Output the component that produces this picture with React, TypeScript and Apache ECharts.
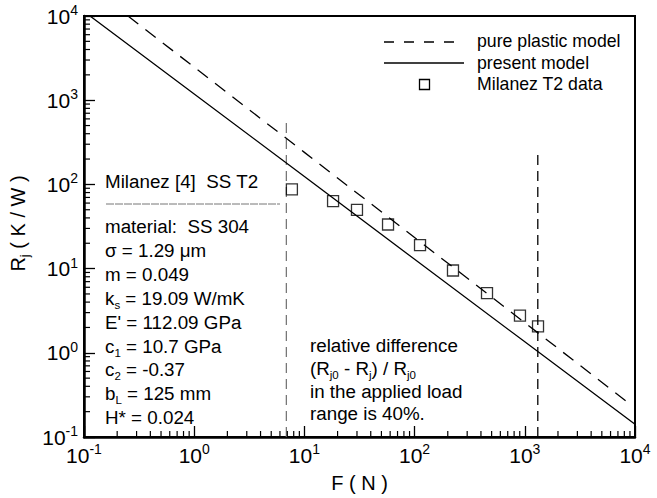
import React, { useEffect, useRef } from 'react';
import * as echarts from 'echarts';

const FONT = "'Liberation Sans', Arial, Helvetica, sans-serif";

// axis ranges
const X_MIN = 0.1;
const X_MAX = 10000;
const Y_MIN = 0.1;
const Y_MAX = 10000;

// Milanez T2 data
const DATA_F = [7.7, 18.2, 30, 57.4, 112, 223, 454, 904, 1318];
const DATA_R = [87.5, 63.4, 49.9, 33.4, 19, 9.5, 5.1, 2.77, 2.06];

// present model (solid)
const PRESENT_F = [0.1134, 1, 10, 100, 1000, 10000];
const PRESENT_R = [10000, 1183, 124, 12.9, 1.35, 0.1416];

// pure plastic model (dashed)
const PLASTIC_F = [0.2507, 1, 10, 100, 1000, 8450];
const PLASTIC_R = [10000, 2466, 240, 23.4, 2.28, 0.262];

// applied load range markers
const LIMIT_F = [6.86, 1312];
const LIMIT_TOP = [541, 262];

const SERIES_NAMES = ['pure plastic model', 'present model', 'Milanez T2 data'];

const INFO_LINES = [
  '{t|Milanez [4] \u00a0SS T2}',
  '{t|material: \u00a0SS 304}',
  '{t|σ = 1.29 μm}',
  '{t|m = 0.049}',
  '{t|k}{s|s}{t| = 19.09 W/mK}',
  "{t|E' = 112.09 GPa}",
  '{t|c}{s|1}{t| = 10.7 GPa}',
  '{t|c}{s|2}{t| = -0.37}',
  '{t|b}{s|L}{t| = 125 mm}',
  '{t|H* = 0.024}',
];
const INFO_BASELINES = [188, 233, 257, 281, 305, 329, 353, 376, 400, 424];

const NOTE_LINES = [
  '{t|relative difference}',
  '{t|(R}{s|j0}{t| - R}{s|j}{t|) / R}{s|j0}',
  '{t|in the applied load}',
  '{t|range is 40%.}',
];
const NOTE_BASELINES = [352, 375, 398, 420];

function minorValues(min: number, max: number): number[] {
  const out: number[] = [];
  const e0 = Math.round(Math.log10(min));
  const e1 = Math.round(Math.log10(max));
  for (let e = e0; e < e1; e++) {
    for (let k = 2; k <= 9; k++) out.push(k * Math.pow(10, e));
  }
  return out;
}

const textRich = {
  t: { fontSize: 18.8, lineHeight: 24, verticalAlign: 'middle', fontFamily: FONT, color: '#000' },
  s: { fontSize: 11.5, lineHeight: 8, verticalAlign: 'bottom', fontFamily: FONT, color: '#000' },
};

const labelRich = {
  b: { fontSize: 21, lineHeight: 26, verticalAlign: 'middle', fontFamily: FONT, color: '#000' },
  s: { fontSize: 14, lineHeight: 17, verticalAlign: 'top', fontFamily: FONT, color: '#000' },
};

const powerLabel = (v: number) => {
  const e = Math.round(Math.log10(v));
  return `{b|10}{s|${e}}`;
};

export default function App() {
  const ref = useRef<HTMLDivElement>(null);
  useEffect(() => {
    if (!ref.current) return;
    const chart = echarts.init(ref.current, undefined, { renderer: 'svg' });

    const graphics: any[] = [];
    INFO_LINES.forEach((line, i) => {
      graphics.push({
        type: 'text',
        x: 105,
        y: INFO_BASELINES[i] - 18.5,
        style: { text: line, rich: textRich, verticalAlign: 'top', align: 'left' },
      });
    });
    NOTE_LINES.forEach((line, i) => {
      graphics.push({
        type: 'text',
        x: 310,
        y: NOTE_BASELINES[i] - 18.5,
        style: { text: line, rich: textRich, verticalAlign: 'top', align: 'left' },
      });
    });
    // divider under the heading
    graphics.push({
      type: 'line',
      shape: { x1: 106, y1: 204, x2: 280, y2: 204 },
      style: { stroke: '#777', lineWidth: 1, lineDash: [8, 1] },
    });
    // legend
    graphics.push({
      type: 'line',
      shape: { x1: 384, y1: 42, x2: 464, y2: 42 },
      style: { stroke: '#000', lineWidth: 1.3, lineDash: [10, 10] },
    });
    graphics.push({
      type: 'line',
      shape: { x1: 384, y1: 63, x2: 464, y2: 63 },
      style: { stroke: '#000', lineWidth: 1.3 },
    });
    graphics.push({
      type: 'rect',
      shape: { x: 419.5, y: 79.5, width: 10, height: 10 },
      style: { stroke: '#000', fill: 'none', lineWidth: 1.3 },
    });
    [41, 62.5, 83.5].forEach((y, i) => {
      graphics.push({
        type: 'text',
        x: 477,
        y,
        style: {
          text: SERIES_NAMES[i],
          fontSize: 17.7,
          fontFamily: FONT,
          fill: '#000',
          verticalAlign: 'middle',
          align: 'left',
        },
      });
    });

    const option: any = {
      animation: false,
      backgroundColor: '#fff',
      grid: {
        left: 84,
        top: 16,
        right: 22,
        bottom: 52,
        show: true,
        borderColor: '#000',
        borderWidth: 2,
        backgroundColor: 'transparent',
      },
      xAxis: {
        type: 'log',
        logBase: 10,
        min: X_MIN,
        max: X_MAX,
        axisLine: { show: true, lineStyle: { color: '#000', width: 2.5 } },
        axisTick: { show: true, inside: true, length: 11, lineStyle: { color: '#000', width: 1.3 } },
        axisLabel: { margin: 5, formatter: powerLabel, rich: labelRich },
        splitLine: { show: false },
        name: 'F ( N )',
        nameLocation: 'middle',
        nameGap: 36,
        nameTextStyle: { fontSize: 20, color: '#000', fontFamily: FONT },
      },
      yAxis: {
        type: 'log',
        logBase: 10,
        min: Y_MIN,
        max: Y_MAX,
        axisLine: { show: true, lineStyle: { color: '#000', width: 2.5 } },
        axisTick: { show: true, inside: true, length: 11, lineStyle: { color: '#000', width: 1.3 } },
        axisLabel: { margin: 6, formatter: powerLabel, rich: labelRich },
        splitLine: { show: false },
        name: '{b|R}{s|j}{b| ( K / W )}',
        nameLocation: 'middle',
        nameRotate: 90,
        nameGap: 44,
        nameTextStyle: {
          padding: [0, 0, 0, 6],
          rich: {
            b: { fontSize: 20, lineHeight: 26, verticalAlign: 'middle', fontFamily: FONT, color: '#000' },
            s: { fontSize: 13, lineHeight: 10, verticalAlign: 'bottom', fontFamily: FONT, color: '#000' },
          },
        },
      },
      series: [
        {
          name: SERIES_NAMES[0],
          type: 'line',
          data: PLASTIC_F.map((f, i) => [f, PLASTIC_R[i]]),
          symbol: 'none',
          lineStyle: { color: '#000', width: 1.3, type: [13, 9] },
          z: 3,
        },
        {
          name: SERIES_NAMES[1],
          type: 'line',
          data: PRESENT_F.map((f, i) => [f, PRESENT_R[i]]),
          symbol: 'none',
          lineStyle: { color: '#000', width: 1.3 },
          z: 3,
        },
        {
          name: SERIES_NAMES[2],
          type: 'scatter',
          data: DATA_F.map((f, i) => [f, DATA_R[i]]),
          symbol: 'rect',
          symbolSize: 11,
          itemStyle: { color: 'rgba(0,0,0,0)', borderColor: '#000', borderWidth: 1.3 },
          z: 4,
        },
        {
          name: 'lower load limit',
          type: 'line',
          data: [
            [LIMIT_F[0], Y_MIN],
            [LIMIT_F[0], LIMIT_TOP[0]],
          ],
          symbol: 'none',
          lineStyle: { color: '#777', width: 1.3, type: [10, 6] },
          z: 2,
        },
        {
          name: 'upper load limit',
          type: 'line',
          data: [
            [LIMIT_F[1], Y_MIN],
            [LIMIT_F[1], LIMIT_TOP[1]],
          ],
          symbol: 'none',
          lineStyle: { color: '#000', width: 1.3, type: [10, 6] },
          z: 2,
        },
        {
          type: 'custom',
          name: 'x minor ticks',
          silent: true,
          data: minorValues(X_MIN, X_MAX).map((v) => [v, Y_MIN]),
          encode: { x: 0, y: 1 },
          renderItem: (_p: any, api: any) => {
            const pt = api.coord([api.value(0), Y_MIN]);
            return {
              type: 'line',
              shape: { x1: pt[0], y1: pt[1], x2: pt[0], y2: pt[1] - 6 },
              style: { stroke: '#000', lineWidth: 1.2 },
            };
          },
          z: 5,
        },
        {
          type: 'custom',
          name: 'y minor ticks',
          silent: true,
          data: minorValues(Y_MIN, Y_MAX).map((v) => [X_MIN, v]),
          encode: { x: 0, y: 1 },
          renderItem: (_p: any, api: any) => {
            const pt = api.coord([X_MIN, api.value(1)]);
            return {
              type: 'line',
              shape: { x1: pt[0], y1: pt[1], x2: pt[0] + 6, y2: pt[1] },
              style: { stroke: '#000', lineWidth: 1.2 },
            };
          },
          z: 5,
        },
      ],
      graphic: graphics,
    };
    chart.setOption(option);
    return () => chart.dispose();
  }, []);

  return (
    <div
      ref={ref}
      style={{ position: 'fixed', left: 0, top: 0, width: 657, height: 498, background: '#fff' }}
    />
  );
}
